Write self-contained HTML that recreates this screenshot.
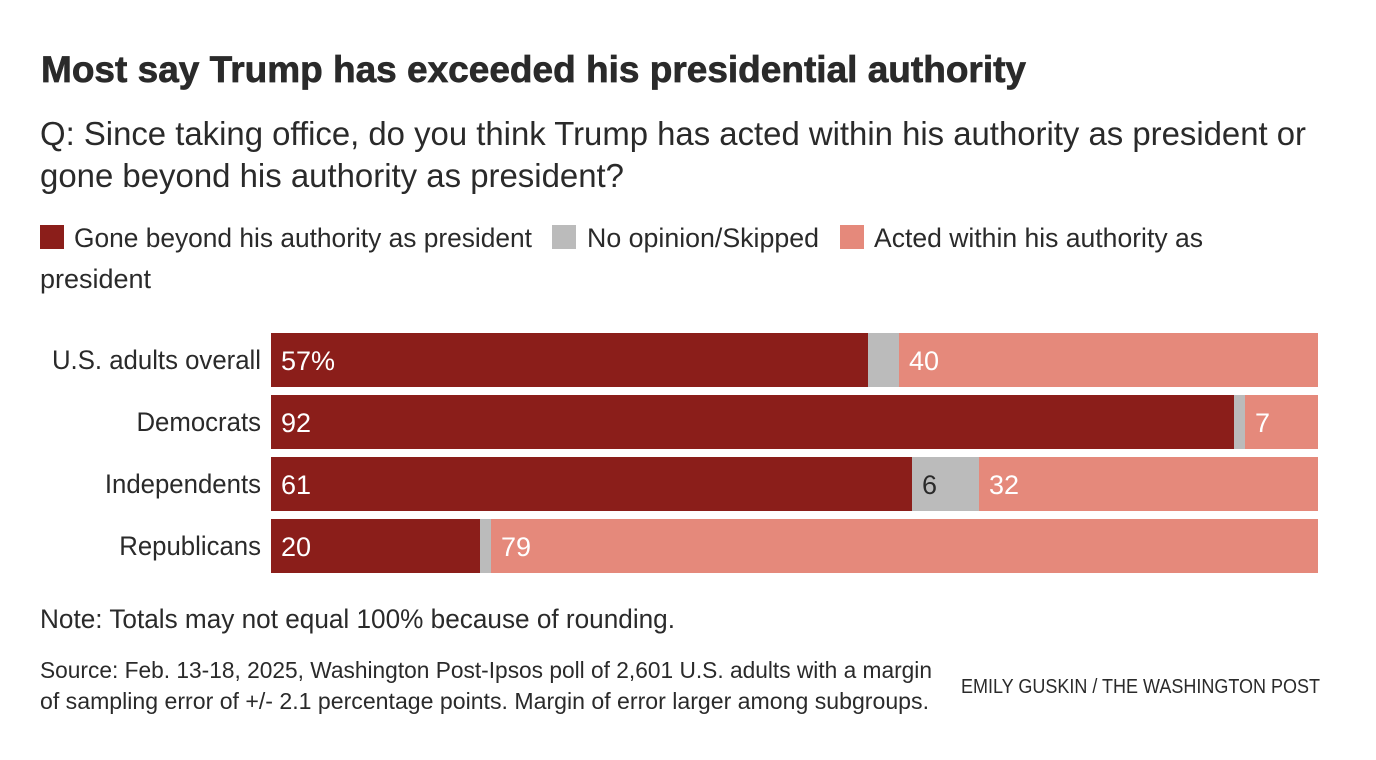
<!DOCTYPE html>
<html lang="en">
<head>
<meta charset="utf-8">
<title>Most say Trump has exceeded his presidential authority</title>
<style>
html,body{margin:0;padding:0;background:#fff;width:1376px;height:760px;overflow:hidden}
svg{display:block}
text{font-family:"Liberation Sans",sans-serif;fill:#2a2a2a}
</style>
</head>
<body>
<svg id="chart" width="1376" height="760" viewBox="0 0 1376 760" xmlns="http://www.w3.org/2000/svg">
  <text x="41" y="82" font-size="37.5" font-weight="700" textLength="985" lengthAdjust="spacingAndGlyphs" stroke="#2a2a2a" stroke-width="0.7">Most say Trump has exceeded his presidential authority</text>
  <text x="40" y="145" font-size="33" textLength="1266" lengthAdjust="spacingAndGlyphs">Q: Since taking office, do you think Trump has acted within his authority as president or</text>
  <text x="40" y="187" font-size="33" textLength="584" lengthAdjust="spacingAndGlyphs">gone beyond his authority as president?</text>

  <g>
    <rect x="40" y="225" width="24" height="24" fill="#8b1e1a"/>
    <text x="74" y="247" font-size="27" textLength="458" lengthAdjust="spacingAndGlyphs">Gone beyond his authority as president</text>
    <rect x="552" y="225" width="24" height="24" fill="#bbbbbb"/>
    <text x="587" y="247" font-size="27" textLength="232" lengthAdjust="spacingAndGlyphs">No opinion/Skipped</text>
    <rect x="840" y="225" width="24" height="24" fill="#e5897b"/>
    <text x="874" y="247" font-size="27" textLength="329" lengthAdjust="spacingAndGlyphs">Acted within his authority as</text>
    <text x="40" y="288" font-size="27" textLength="111" lengthAdjust="spacingAndGlyphs">president</text>
  </g>

  <g id="bars"></g>

  <text x="40" y="628" font-size="27" textLength="635" lengthAdjust="spacingAndGlyphs">Note: Totals may not equal 100% because of rounding.</text>
  <text x="40" y="678" font-size="23.5" textLength="892" lengthAdjust="spacingAndGlyphs">Source: Feb. 13-18, 2025, Washington Post-Ipsos poll of 2,601 U.S. adults with a margin</text>
  <text x="40" y="709" font-size="23.5" textLength="889" lengthAdjust="spacingAndGlyphs">of sampling error of +/- 2.1 percentage points. Margin of error larger among subgroups.</text>
  <text x="961" y="693" font-size="20" textLength="359" lengthAdjust="spacingAndGlyphs">EMILY GUSKIN / THE WASHINGTON POST</text>
</svg>
<script>
const categories = ["U.S. adults overall", "Democrats", "Independents", "Republicans"];
const goneBeyond = [57, 92, 61.2, 20];
const noOpinion = [3, 1, 6.4, 1];
const actedWithin = [40, 7, 32.4, 79];
const hiddenLabelBelow = 5;

const svgNS = "http://www.w3.org/2000/svg";
const root = document.getElementById("bars");
const plotLeft = 271, plotWidth = 1047, rowTop = 333, rowStep = 62, barHeight = 54;

function xScale(v) { return Math.round(plotLeft + v / 100 * plotWidth); }
function yScale(i) { return rowTop + i * rowStep; }

const series = [
  { key: "gone-beyond", values: goneBeyond, fill: "#8b1e1a", text: "#ffffff" },
  { key: "no-opinion", values: noOpinion, fill: "#bbbbbb", text: "#2a2a2a" },
  { key: "acted-within", values: actedWithin, fill: "#e5897b", text: "#ffffff" }
];

categories.forEach(function (cat, i) {
  const y = yScale(i);
  const slug = cat.toLowerCase().replace(/[^a-z]+/g, "-").replace(/-$/, "");

  const lab = document.createElementNS(svgNS, "text");
  
  
  lab.setAttribute("transform", "translate(261," + (y + 36) + ") scale(0.955,1)");
  lab.setAttribute("text-anchor", "end");
  lab.setAttribute("font-size", "27");
  lab.textContent = cat;
  root.appendChild(lab);

  let cum = 0;
  series.forEach(function (s) {
    const v = s.values[i];
    const x0 = xScale(cum);
    const x1 = xScale(cum + v);
    const r = document.createElementNS(svgNS, "rect");
    
    
    r.setAttribute("x", x0);
    r.setAttribute("y", y);
    r.setAttribute("width", x1 - x0);
    r.setAttribute("height", barHeight);
    r.setAttribute("fill", s.fill);
    root.appendChild(r);

    if (v >= hiddenLabelBelow) {
      const t = document.createElementNS(svgNS, "text");
      
      
      t.setAttribute("x", x0 + 10);
      t.setAttribute("y", y + 37);
      t.setAttribute("font-size", "27");
      t.style.fill = s.text;
      t.textContent = Math.round(v) + (i === 0 && s.key === "gone-beyond" ? "%" : "");
      root.appendChild(t);
    }
    cum += v;
  });
});
</script>
</body>
</html>
